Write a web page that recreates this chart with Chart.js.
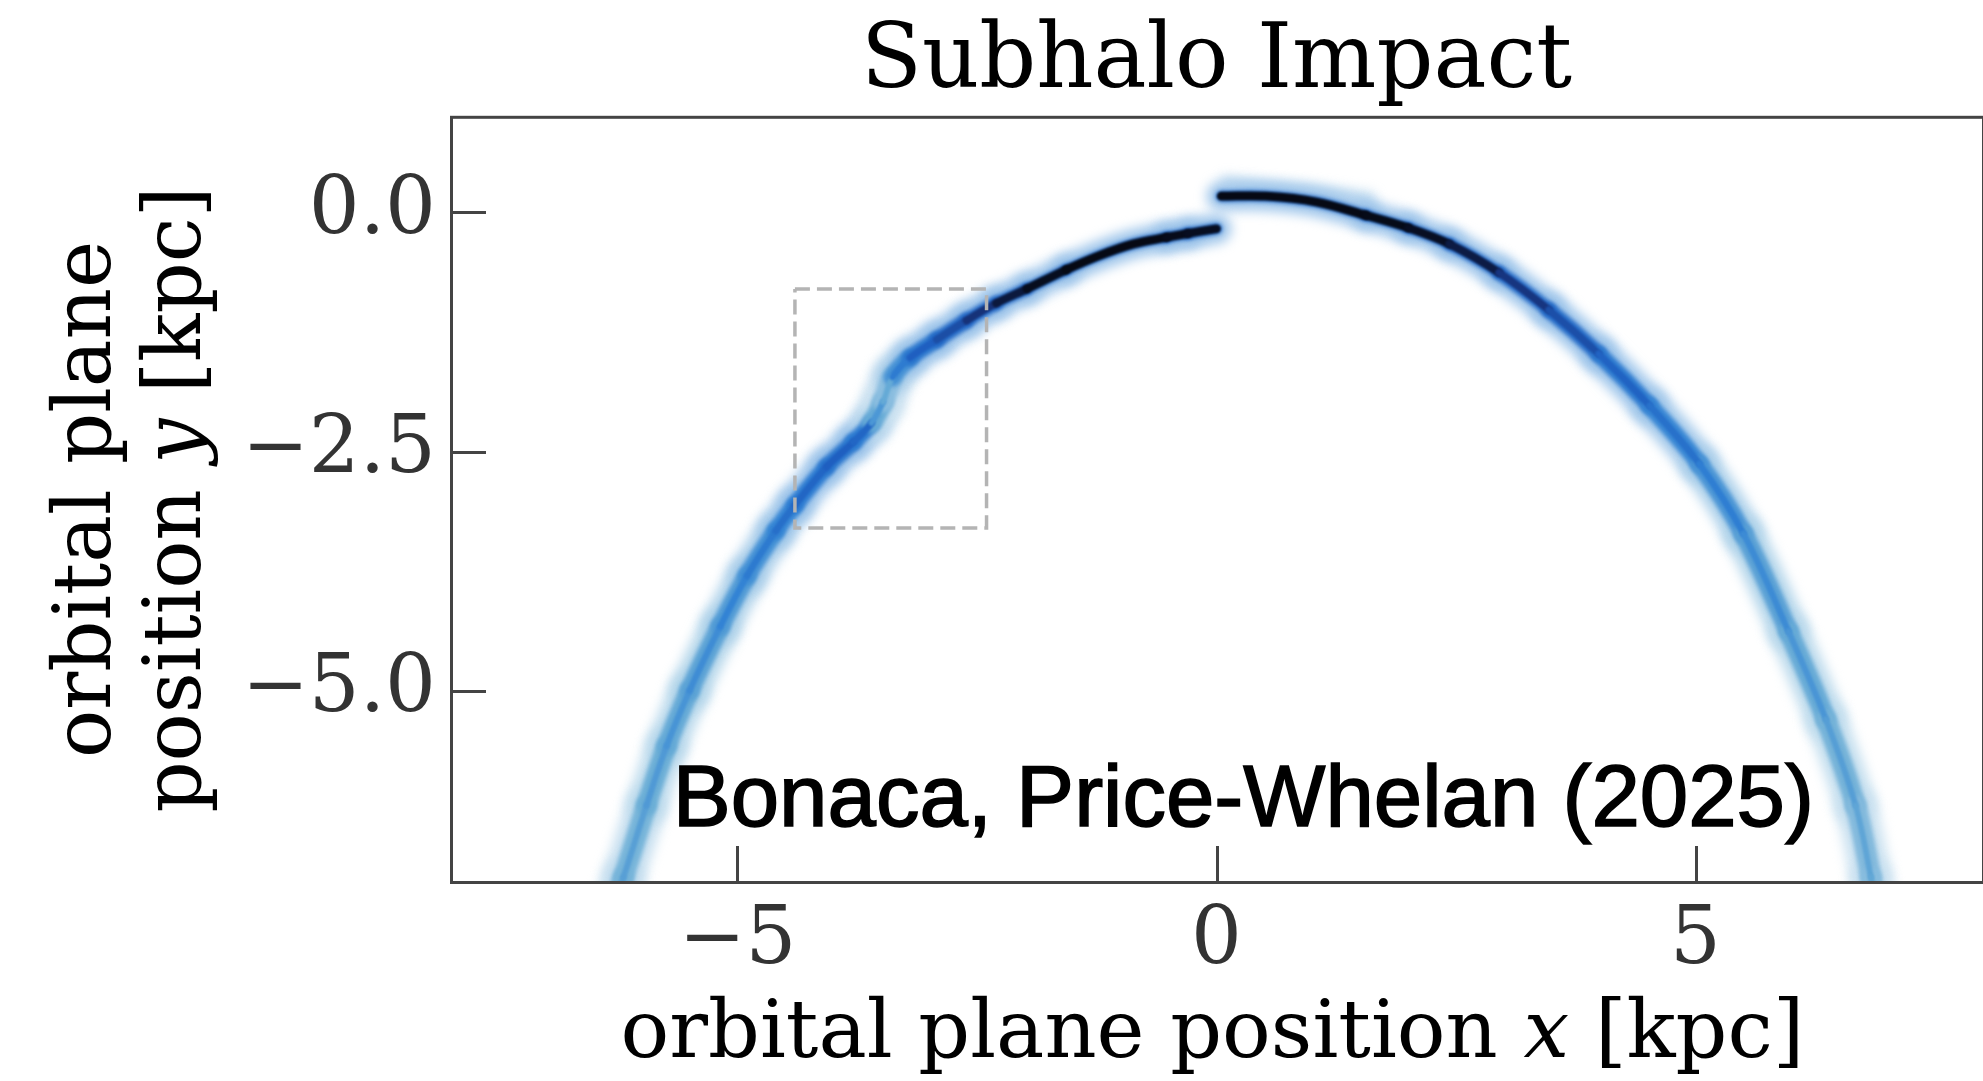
<!DOCTYPE html>
<html>
<head>
<meta charset="utf-8">
<script src="https://cdn.jsdelivr.net/npm/chart.js@4.4.1/dist/chart.umd.min.js"></script>
<style>
  html, body { margin: 0; padding: 0; background: #fff; }
  #wrap { width: 1983px; height: 1081px; }
</style>
</head>
<body>
<div id="wrap"><canvas id="streamChart" width="1983" height="1081"></canvas></div>
<script>
// Stream track (kpc). Left arm runs bottom -> impact site.
const leftArmX = [-6.30, -6.19, -5.95, -5.74, -5.50, -5.18, -4.90, -4.60, -4.40, -4.07, -3.79, -3.60, -3.48, -3.38, -3.20, -2.92, -2.61, -2.30, -1.98, -1.57, -1.22, -0.87, -0.52, -0.30, 0.00];
const leftArmY = [-7.25, -6.95, -6.20, -5.58, -5.00, -4.33, -3.80, -3.33, -3.06, -2.66, -2.40, -2.20, -1.98, -1.72, -1.52, -1.33, -1.13, -0.95, -0.80, -0.60, -0.45, -0.33, -0.26, -0.22, -0.17];
const leftArmDensity = [0.40, 0.40, 0.42, 0.44, 0.46, 0.49, 0.52, 0.56, 0.60, 0.63, 0.65, 0.58, 0.30, 0.45, 0.62, 0.66, 0.72, 0.82, 0.90, 0.95, 0.95, 0.95, 0.95, 0.92, 0.92];

// Right arm, impact site -> bottom
const rightArmX = [0.05, 0.52, 1.04, 1.56, 2.00, 2.43, 2.95, 3.47, 3.99, 4.52, 5.04, 5.50, 5.97, 6.36, 6.67, 6.83, 6.88];
const rightArmY = [0.17, 0.17, 0.11, -0.03, -0.16, -0.33, -0.63, -1.02, -1.48, -2.02, -2.63, -3.36, -4.38, -5.30, -6.20, -6.95, -7.25];
const rightArmDensity = [0.95, 0.95, 0.95, 0.95, 0.93, 0.90, 0.80, 0.72, 0.65, 0.60, 0.55, 0.50, 0.46, 0.43, 0.40, 0.38, 0.38];

// faint debris fan above the impact site
const sprayX = [0.10, 0.55, 1.05, 1.60];
const sprayY = [0.32, 0.26, 0.22, 0.15];

// zoom-in box
const boxX = [-4.4, -2.4, -2.4, -4.4, -4.4];
const boxY = [-0.8, -0.8, -3.3, -3.3, -0.8];

const xTicks = [-5, 0, 5];
const yTicks = [0, -2.5, -5];
const xRange = [-8, 8];
const yRange = [-7, 1];

const titleText = "Subhalo Impact";
const xLabelParts = ["orbital plane position ", "x", " [kpc]"];
const yLabelLines = [["orbital plane"], ["position ", "y", " [kpc]"]];
const creditText = "Bonaca, Price-Whelan (2025)";
const creditPos = [0.28, -6.41];

const SERIF = '"DejaVu Serif", serif';

// Blues-like colour map that runs into near black at the densest part
const BLUES = [
    [0.00, [247, 251, 255]],
    [0.25, [198, 219, 239]],
    [0.40, [107, 174, 214]],
    [0.55, [49, 130, 212]],
    [0.68, [31, 95, 192]],
    [0.80, [23, 53, 127]],
    [0.92, [10, 19, 48]],
    [1.00, [5, 8, 16]]
];

function blues(t){
    t = Math.max(0, Math.min(1, t));
    for(let i = 1; i < BLUES.length; i++){
        if(t <= BLUES[i][0]){
            const a = BLUES[i - 1], b = BLUES[i];
            const f = (t - a[0]) / (b[0] - a[0]);
            return a[1].map((c, k) => c + (b[1][k] - c) * f);
        }
    }
    return BLUES[BLUES.length - 1][1];
}

function toWhite(rgb, f){
    return rgb.map(c => c + (255 - c) * f);
}

function css(rgb){
    return `rgb(${rgb.map(Math.round).join(",")})`;
}

function toPoints(xs, ys){
    return xs.map((x, i) => ({x: x, y: ys[i]}));
}

// three stacked strokes give the soft edge + darker core of the density map
function streamLayers(xs, ys, dens){
    const pts = toPoints(xs, ys);
    const d = c => (dens[c.p0DataIndex] + dens[c.p1DataIndex]) / 2;
    const base = {
        data: pts, showLine: true, pointRadius: 0, pointHoverRadius: 0,
        borderCapStyle: "round", borderJoinStyle: "round", tension: 0.35, clip: 0
    };
    return [
        {...base, order: 6, blur: 6,
            segment: {
                borderColor: c => css(toWhite(blues(Math.min(d(c) * 0.85, 0.52)), 0.5)),
                borderWidth: c => 28 + (1 - d(c)) * 20
            }},
        {...base, order: 5, blur: 2,
            segment: {
                borderColor: c => css(blues(Math.min(d(c) * 0.93, 0.64))),
                borderWidth: c => 10 + (1 - d(c)) * 18
            }},
        {...base, order: 4, blur: 0.8,
            segment: {
                borderColor: c => css(blues(d(c) + 0.04)),
                borderWidth: c => 4 + d(c) * 5
            }}
    ];
}

function fmtTick(v, digits){
    const s = Math.abs(v).toFixed(digits);
    return (v < 0 ? "\u2212" : "") + s;
}

function drawRuns(ctx, parts, cx, y, size){
    const runs = parts.map((text, i) => ({
        text: text,
        font: (parts.length === 3 && i === 1 ? "italic " : "") + size + "px " + SERIF
    }));
    let total = 0;
    runs.forEach(r => { ctx.font = r.font; r.w = ctx.measureText(r.text).width; total += r.w; });
    let x = cx - total / 2;
    runs.forEach(r => { ctx.font = r.font; ctx.fillText(r.text, x, y); x += r.w; });
}

const framePlugin = {
    id: "frame",
    beforeDatasetDraw(chart, args){
        const ds = chart.data.datasets[args.index];
        chart.ctx.save();
        if(ds.blur){
            chart.ctx.filter = `blur(${ds.blur}px)`;
        }
    },
    afterDatasetDraw(chart){
        chart.ctx.restore();
    },
    afterDatasetsDraw(chart){
        const ctx = chart.ctx;
        const xs = chart.scales.x, ys = chart.scales.y;
        const px = xs.getPixelForValue(creditPos[0]);
        const py = ys.getPixelForValue(creditPos[1]);
        ctx.save();
        ctx.fillStyle = "#000";
        ctx.strokeStyle = "#000";
        ctx.lineWidth = 1.6;
        ctx.font = '87px "Liberation Sans", Arial, sans-serif';
        ctx.textAlign = "center";
        ctx.textBaseline = "alphabetic";
        ctx.fillText(creditText, px, py);
        ctx.strokeText(creditText, px, py);
        ctx.restore();
    },
    afterDraw(chart){
        const ctx = chart.ctx;
        const a = chart.chartArea;
        const xs = chart.scales.x, ys = chart.scales.y;
        ctx.save();
        ctx.strokeStyle = "#444";
        ctx.lineWidth = 3;
        ctx.strokeRect(a.left + 1.5, a.top + 0.5, a.right - a.left - 1, a.bottom - a.top);

        // inward ticks
        const tickLen = 36;
        ctx.beginPath();
        xTicks.forEach(v => {
            const px = Math.round(xs.getPixelForValue(v)) + 0.5;
            ctx.moveTo(px, a.bottom);
            ctx.lineTo(px, a.bottom - tickLen);
        });
        yTicks.forEach(v => {
            const py = Math.round(ys.getPixelForValue(v)) + 0.5;
            ctx.moveTo(a.left, py);
            ctx.lineTo(a.left + tickLen, py);
        });
        ctx.stroke();

        // axis titles
        ctx.fillStyle = "#000";
        ctx.textAlign = "left";
        ctx.textBaseline = "alphabetic";
        drawRuns(ctx, xLabelParts, (a.left + a.right) / 2 - 4, a.bottom + 175, 81);

        const midY = (a.top + a.bottom) / 2;
        const baselines = [a.left - 340, a.left - 250];
        yLabelLines.forEach((parts, i) => {
            ctx.save();
            ctx.translate(baselines[i], midY);
            ctx.rotate(-Math.PI / 2);
            drawRuns(ctx, parts, 0, 0, 80);
            ctx.restore();
        });
        ctx.restore();
    }
};

const datasets = [
    ...streamLayers(leftArmX, leftArmY, leftArmDensity),
    ...streamLayers(rightArmX, rightArmY, rightArmDensity),
    {
        data: toPoints(sprayX, sprayY), showLine: true, pointRadius: 0, order: 7, blur: 6,
        borderColor: "rgba(150,195,228,0.55)", borderWidth: 12, borderCapStyle: "round",
        tension: 0.3, clip: 0
    },
    {
        data: toPoints(boxX, boxY), showLine: true, pointRadius: 0, order: 1,
        borderColor: "#b4b4b4", borderWidth: 3.5, borderDash: [15, 7], tension: 0, clip: 0
    }
];

const ctx = document.getElementById("streamChart").getContext("2d");
new Chart(ctx, {
    type: "scatter",
    data: {datasets: datasets},
    plugins: [framePlugin],
    options: {
        responsive: false,
        animation: false,
        devicePixelRatio: 1,
        events: [],
        layout: {padding: {top: 0, right: 0, bottom: 0, left: 0}},
        plugins: {
            legend: {display: false},
            tooltip: {enabled: false},
            title: {
                display: true,
                text: titleText,
                fullSize: false,
                color: "#000",
                font: {family: SERIF, size: 89, weight: "normal"},
                padding: {top: 10, bottom: 0}
            }
        },
        scales: {
            x: {
                type: "linear",
                min: xRange[0],
                max: xRange[1],
                grid: {display: false},
                border: {display: false},
                ticks: {
                    color: "#333",
                    font: {family: SERIF, size: 80},
                    padding: 4,
                    maxRotation: 0,
                    autoSkip: false,
                    callback: v => fmtTick(v, 0)
                },
                afterBuildTicks: s => { s.ticks = xTicks.map(v => ({value: v})); },
                afterFit: s => { s.height = 199; }
            },
            y: {
                type: "linear",
                min: yRange[0],
                max: yRange[1],
                grid: {display: false},
                border: {display: false},
                ticks: {
                    color: "#333",
                    font: {family: SERIF, size: 80},
                    padding: 6,
                    autoSkip: false,
                    callback: v => fmtTick(v, 1)
                },
                afterBuildTicks: s => { s.ticks = yTicks.map(v => ({value: v})); },
                afterFit: s => { s.width = 450; }
            }
        }
    }
});
</script>
</body>
</html>
